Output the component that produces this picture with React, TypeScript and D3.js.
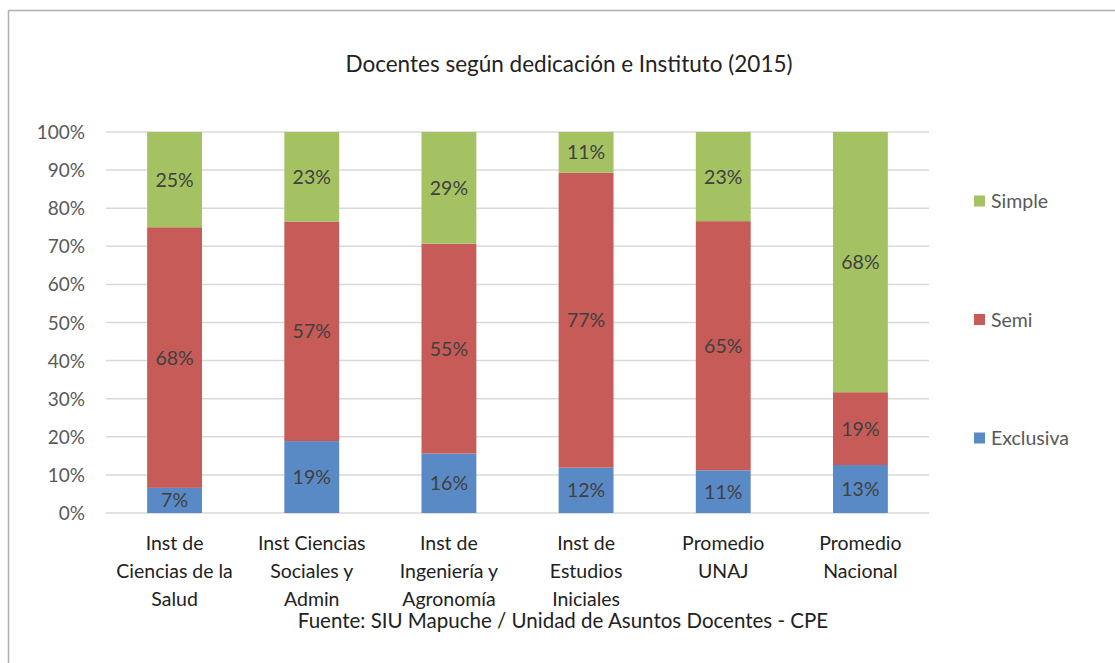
import * as d3 from "d3";
import { useMemo } from "react";

// categories (each label split in lines as in the original)
const categories = [
  "Inst de|Ciencias de la|Salud",
  "Inst Ciencias|Sociales y|Admin",
  "Inst de|Ingeniería y|Agronomía",
  "Inst de|Estudios|Iniciales",
  "Promedio|UNAJ",
  "Promedio|Nacional",
];

const series = ["Exclusiva", "Semi", "Simple"];
const exclusiva = [6.6, 18.8, 15.6, 11.9, 11.2, 12.6];
const semi = [68.4, 57.4, 55.1, 77.4, 65.4, 19.1];
const simple = [25.0, 23.4, 29.3, 10.7, 23.4, 68.3];
const yTicks = [0, 10, 20, 30, 40, 50, 60, 70, 80, 90, 100];

const colors: Record<string, string> = {
  Exclusiva: "#5A8AC6",
  Semi: "#C75B57",
  Simple: "#A5C263",
};

const W = 1115;
const H = 663;
const pad = { top: 132, right: 186, bottom: 150, left: 106 };
const font = "Lato, 'Open Sans', sans-serif";

export default function App() {
  const rows = useMemo(
    () =>
      categories.map((c, i) => {
        const tot = exclusiva[i] + semi[i] + simple[i];
        return {
          cat: c,
          Exclusiva: exclusiva[i],
          Semi: semi[i],
          Simple: simple[i],
          tot,
        };
      }),
    []
  );

  // normalise to 100% stacks
  const stacked = d3
    .stack<any>()
    .keys(series)
    .value((d, k) => (d[k] / d.tot) * 100)(rows);

  const innerW = W - pad.left - pad.right;
  const innerH = H - pad.top - pad.bottom;

  const x = d3
    .scaleBand()
    .domain(categories)
    .range([pad.left, pad.left + innerW])
    .paddingInner(0.6)
    .paddingOuter(0.3);

  const y = d3.scaleLinear().domain([0, 100]).range([pad.top + innerH, pad.top]);

  return (
    <div style={{ position: "absolute", left: 0, top: 0 }}>
      <svg width={W} height={H} style={{ display: "block", background: "#fff" }}>
        <line x1={8.5} y1={10.5} x2={W} y2={10.5} stroke="#b0b0b0" strokeWidth={1.5} />
        <line x1={8.5} y1={10.5} x2={8.5} y2={H} stroke="#b0b0b0" strokeWidth={1.5} />

        <text
          x={569}
          y={72}
          textAnchor="middle"
          fontFamily={font}
          fontSize={22.5}
          fill="#222"
        >
          Docentes según dedicación e Instituto (2015)
        </text>

        {yTicks.map((t) => (
          <g key={t}>
            <line
              x1={pad.left}
              x2={pad.left + innerW}
              y1={y(t)}
              y2={y(t)}
              stroke="#d9d9d9"
              strokeWidth={1.5}
            />
            <text
              x={pad.left - 21}
              y={y(t) + 7}
              textAnchor="end"
              fontFamily={font}
              fontSize={19}
              fill="#595959"
            >
              {t}%
            </text>
          </g>
        ))}

        {stacked.map((s) => (
          <g key={s.key}>
            {s.map((d, i) => {
              const x0 = x(categories[i])!;
              const y0 = y(d[1]);
              const h = y(d[0]) - y(d[1]);
              const raw = (rows[i] as any)[s.key] as number;
              return (
                <g key={i}>
                  <rect
                    x={x0}
                    y={y0}
                    width={x.bandwidth()}
                    height={h}
                    fill={colors[s.key]}
                  />
                  <text
                    x={x0 + x.bandwidth() / 2}
                    y={y0 + h / 2 + 7}
                    textAnchor="middle"
                    fontFamily={font}
                    fontSize={19.5}
                    fill="#404040"
                  >
                    {Math.round(raw)}%
                  </text>
                </g>
              );
            })}
          </g>
        ))}

        {categories.map((c) => (
          <text
            key={c}
            textAnchor="middle"
            fontFamily={font}
            fontSize={19.5}
            fill="#222"
          >
            {c.split("|").map((ln, j) => (
              <tspan key={j} x={x(c)! + x.bandwidth() / 2} y={550 + j * 28}>
                {ln}
              </tspan>
            ))}
          </text>
        ))}

        <text x={563} y={628} textAnchor="middle" fontFamily={font} fontSize={20.5} fill="#222">
          Fuente: SIU Mapuche / Unidad de Asuntos Docentes - CPE
        </text>

        {[...series].reverse().map((k, i) => {
          const cy = 201 + i * 118.5;
          return (
            <g key={k}>
              <rect x={974} y={cy - 5.5} width={11} height={11} fill={colors[k]} />
              <text
                x={991}
                y={cy + 7}
                fontFamily={font}
                fontSize={19.5}
                fill="#595959"
              >
                {k}
              </text>
            </g>
          );
        })}
      </svg>
    </div>
  );
}
